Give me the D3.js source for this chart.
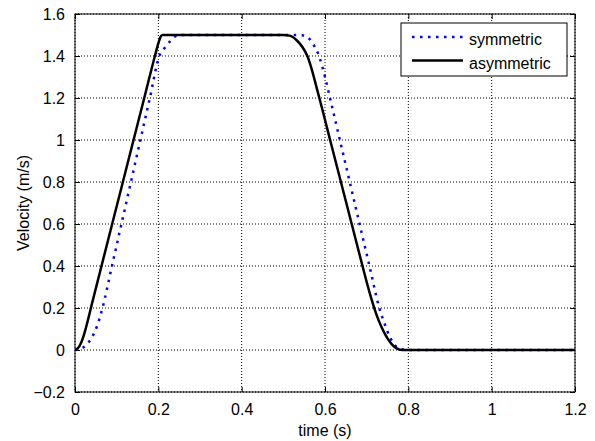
<!DOCTYPE html>
<html>
<head>
<meta charset="utf-8">
<script src="https://cdn.jsdelivr.net/npm/d3@7"></script>
<style>
  body { margin: 0; background: #fff; }
  text { font-family: "Liberation Sans", Arial, sans-serif; }
</style>
</head>
<body>
<div id="chart"></div>
<script>
// Values
const symTime = [0, 0.01, 0.018, 0.03, 0.042, 0.054, 0.066, 0.0887, 0.1115, 0.1342, 0.1569, 0.1797, 0.2024, 0.216, 0.228, 0.238, 0.25,
                 0.53, 0.548, 0.562, 0.572, 0.5856, 0.6, 0.612, 0.6357, 0.6594, 0.683, 0.7067, 0.7304, 0.744, 0.756, 0.768, 0.784, 0.8, 1.2];
const symVel  = [0, 0.002, 0.01, 0.03, 0.065, 0.12, 0.2, 0.4, 0.6, 0.8, 1.0, 1.2, 1.4, 1.44, 1.47, 1.49, 1.5,
                 1.5, 1.498, 1.483, 1.455, 1.4, 1.3, 1.2, 1.0, 0.8, 0.6, 0.4, 0.2, 0.12, 0.06, 0.022, 0.004, 0, 0];

const asymTime = [0, 0.01, 0.02, 0.025, 0.04, 0.0636, 0.0892, 0.1149, 0.1405, 0.1662, 0.1918, 0.2, 0.205, 0.21,
                  0.5, 0.515, 0.532, 0.545, 0.5576, 0.5864, 0.6123, 0.6382, 0.6641, 0.69, 0.7, 0.71, 0.72, 0.73,
                  0.74, 0.75, 0.76, 0.77, 0.785, 1.2];
const asymVel  = [0, 0.016, 0.063, 0.097, 0.215, 0.4, 0.6, 0.8, 1.0, 1.2, 1.4, 1.46, 1.49, 1.5,
                  1.5, 1.497, 1.475, 1.445, 1.4, 1.2, 1.0, 0.8, 0.6, 0.4, 0.324, 0.253, 0.189, 0.135,
                  0.091, 0.055, 0.028, 0.01, 0, 0];

const xTicks = [0, 0.2, 0.4, 0.6, 0.8, 1, 1.2];
const yTicks = [-0.2, 0, 0.2, 0.4, 0.6, 0.8, 1, 1.2, 1.4, 1.6];
const seriesNames = ["symmetric", "asymmetric"];

const width = 595, height = 441;
const margin = { top: 14, right: 20, bottom: 49, left: 75 };
const fontSize = "16px";

const svg = d3.select("#chart").append("svg")
    .attr("width", width)
    .attr("height", height)
    .style("background", "#fff");

const x = d3.scaleLinear().domain([0, 1.2]).range([margin.left, width - margin.right]);
const y = d3.scaleLinear().domain([-0.2, 1.6]).range([height - margin.bottom, margin.top]);

const plotW = width - margin.left - margin.right;
const plotH = height - margin.top - margin.bottom;

// Grid (dotted)
const grid = svg.append("g").attr("class", "grid");
grid.selectAll("line.vx").data(xTicks).enter().append("line")
    .attr("x1", d => x(d)).attr("x2", d => x(d))
    .attr("y1", margin.top).attr("y2", height - margin.bottom)
    .attr("stroke", "#000").attr("stroke-width", 1)
    .attr("stroke-dasharray", "1,2");
grid.selectAll("line.hy").data(yTicks).enter().append("line")
    .attr("x1", margin.left).attr("x2", width - margin.right)
    .attr("y1", d => y(d)).attr("y2", d => y(d))
    .attr("stroke", "#000").attr("stroke-width", 1)
    .attr("stroke-dasharray", "1,2");

// Axes with inward ticks on all four sides
const tickLen = 5;
const xAxisB = svg.append("g")
    .attr("transform", `translate(0,${height - margin.bottom})`)
    .call(d3.axisBottom(x).tickValues(xTicks).tickSizeInner(-tickLen).tickSizeOuter(0).tickPadding(12)
        .tickFormat(d3.format("")));
const xAxisT = svg.append("g")
    .attr("transform", `translate(0,${margin.top})`)
    .call(d3.axisTop(x).tickValues(xTicks).tickSizeInner(-tickLen).tickSizeOuter(0).tickFormat(""));
const yAxisL = svg.append("g")
    .attr("transform", `translate(${margin.left},0)`)
    .call(d3.axisLeft(y).tickValues(yTicks).tickSizeInner(-tickLen).tickSizeOuter(0).tickPadding(10)
        .tickFormat(d3.format("")));
const yAxisR = svg.append("g")
    .attr("transform", `translate(${width - margin.right},0)`)
    .call(d3.axisRight(y).tickValues(yTicks).tickSizeInner(-tickLen).tickSizeOuter(0).tickFormat(""));

[xAxisB, xAxisT, yAxisL, yAxisR].forEach(a => {
    a.select(".domain").remove();
    a.selectAll("line").attr("stroke", "#000");
    a.selectAll("text")
        .attr("fill", "#000")
        .style("font-size", fontSize)
        .style("font-family", "'Liberation Sans', Arial, sans-serif");
});

// Box
svg.append("rect")
    .attr("x", margin.left).attr("y", margin.top)
    .attr("width", plotW).attr("height", plotH)
    .attr("fill", "none").attr("stroke", "#000").attr("stroke-width", 1);

// Lines
const line = d3.line()
    .x(d => x(d[0]))
    .y(d => y(d[1]))
    .curve(d3.curveMonotoneX);

svg.append("clipPath").attr("id", "plotclip")
    .append("rect").attr("x", margin.left).attr("y", margin.top)
    .attr("width", plotW).attr("height", plotH);

const lines = svg.append("g").attr("clip-path", "url(#plotclip)");

lines.append("path")
    .datum(d3.zip(symTime, symVel))
    .attr("d", line)
    .attr("fill", "none")
    .attr("stroke", "#0000ff")
    .attr("stroke-width", 2.5)
    .attr("stroke-dasharray", "2.5,5.5");

lines.append("path")
    .datum(d3.zip(asymTime, asymVel))
    .attr("d", line)
    .attr("fill", "none")
    .attr("stroke", "#000")
    .attr("stroke-width", 2.5);

// Axis labels
svg.append("text")
    .attr("x", x(0.6)).attr("y", 436)
    .attr("text-anchor", "middle")
    .style("font-size", fontSize)
    .text("time (s)");

svg.append("text")
    .attr("transform", `translate(29,${y(0.7)}) rotate(-90)`)
    .attr("text-anchor", "middle")
    .style("font-size", fontSize)
    .text("Velocity (m/s)");

// Legend
const legend = svg.append("g").attr("transform", "translate(401,23)");
legend.append("rect")
    .attr("width", 166).attr("height", 53)
    .attr("fill", "#fff").attr("stroke", "#000").attr("stroke-width", 1);

const legendStyles = [
    { color: "#0000ff", dash: "2.5,5.5" },
    { color: "#000", dash: null }
];
seriesNames.forEach((name, i) => {
    const ly = 14 + i * 23.5;
    legend.append("line")
        .attr("x1", 11).attr("x2", 62)
        .attr("y1", ly).attr("y2", ly)
        .attr("stroke", legendStyles[i].color)
        .attr("stroke-width", 2.5)
        .attr("stroke-dasharray", legendStyles[i].dash);
    legend.append("text")
        .attr("x", 68).attr("y", ly + 8)
        .style("font-size", fontSize)
        .text(name);
});
</script>
</body>
</html>
